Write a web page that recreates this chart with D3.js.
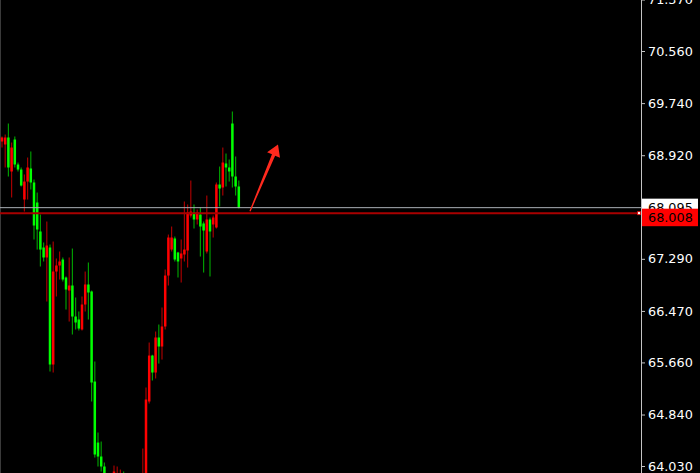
<!DOCTYPE html>
<html><head><meta charset="utf-8">
<script src="https://cdn.jsdelivr.net/npm/d3@7"></script>
<style>html,body{margin:0;padding:0;background:#000;overflow:hidden}svg{display:block}</style>
</head><body><svg id="c" width="700" height="473"></svg>
<script>
// ---- data ----
const opens = [69.136,69.089,69.199,68.664,69.167,68.774,68.695,68.223,68.506,68.711,
68.491,68.176,67.720,67.468,67.311,67.468,65.627,67.090,67.185,67.279,
66.996,66.791,66.870,66.382,66.335,66.178,66.571,66.886,66.776,65.359,
64.399,64.179,64.022,63.849,63.691,63.786,63.817,63.786,63.880,63.817,
63.660,63.754,63.597,63.660,63.738,63.849,65.045,65.768,65.501,66.052,
65.910,66.225,67.027,67.436,67.610,67.389,67.295,67.358,67.421,67.971,
68.019,67.909,67.987,67.846,67.405,67.909,67.830,67.783,68.459,68.412,
68.790,68.727,69.419,68.585,68.428];
const highs = [69.215,69.246,69.419,69.120,69.215,68.805,68.727,68.617,68.884,68.979,
68.538,68.333,67.987,67.547,67.877,67.515,67.562,67.295,67.405,67.311,
67.012,67.311,67.452,66.681,66.461,66.697,67.090,67.232,66.791,65.674,
64.557,64.415,64.085,63.896,63.817,64.037,64.022,63.974,63.943,63.849,
63.786,63.817,63.738,63.849,64.305,65.265,65.973,65.780,66.146,66.256,
66.524,67.122,67.672,67.798,67.641,67.400,67.594,68.192,68.145,68.522,
68.145,68.066,68.097,67.877,68.286,67.940,67.971,68.491,68.742,69.041,
68.947,68.853,69.608,68.900,68.522];
const lows = [69.041,68.727,68.585,68.255,68.727,68.664,68.428,68.034,68.223,68.381,
67.594,67.436,67.169,67.248,66.618,65.517,65.501,66.697,66.964,66.933,
66.492,66.303,66.099,66.178,66.162,66.162,66.461,66.335,65.045,64.163,
64.022,63.943,63.738,63.628,63.581,63.660,63.691,63.660,63.723,63.581,
63.534,63.502,63.502,63.565,63.660,63.786,65.013,65.375,65.407,65.642,
65.705,66.178,66.870,67.405,67.248,66.996,66.917,67.248,67.153,67.940,
67.767,67.830,67.326,67.074,67.374,67.012,67.625,67.767,68.113,68.286,
68.428,68.506,68.412,68.286,68.082];
const closes = [69.199,69.199,68.727,69.041,68.774,68.695,68.443,68.506,68.727,68.491,
67.814,67.751,67.436,67.311,67.499,65.627,67.090,67.185,67.248,66.964,
66.807,66.870,66.382,66.288,66.193,66.571,66.886,66.760,65.344,64.211,
64.179,64.022,63.849,63.738,63.786,63.943,63.911,63.880,63.817,63.707,
63.738,63.628,63.691,63.817,63.880,65.076,65.768,65.501,66.052,65.910,
66.225,67.027,67.625,67.625,67.279,67.248,67.374,67.436,68.019,68.034,
67.909,68.019,67.798,67.735,67.909,67.720,67.940,68.459,68.396,68.805,
68.727,68.664,68.585,68.428,68.095];
const priceTicks = [71.370, 70.560, 69.740, 68.920, 67.290, 66.470, 65.660, 64.840, 64.030];
const bidPrice = 68.095;      // grey line / white label
const markPrice = 68.008;     // red line / red label
const arrowFrom = {i: 77.5, p: 68.04};
const arrowTo   = {i: 86.25, p: 69.09};

// ---- drawing ----
const W = 700, H = 473, axisX = 641;
const n = opens.length;
const svg = d3.select('#c');
svg.append('rect').attr('width', W).attr('height', H).attr('fill', '#000');

const x = d3.scaleLinear().domain([0, n - 1]).range([2, 238.8]);
const y = d3.scaleLinear().domain([64.03, 70.56]).range([466, 51]);

svg.append('defs').append('clipPath').attr('id', 'clip')
  .append('rect').attr('x', 0).attr('y', 0).attr('width', axisX).attr('height', H);

// left frame line
svg.append('line').attr('x1', 0.5).attr('x2', 0.5).attr('y1', 0).attr('y2', H)
  .attr('stroke', '#3a3a3a').attr('stroke-width', 1);

const plot = svg.append('g').attr('clip-path', 'url(#clip)');
const idx = d3.range(n);
const up = i => closes[i] >= opens[i];

plot.selectAll('rect.wick').data(idx).join('rect').attr('class', 'wick')
  .attr('x', i => x(i) - 0.6).attr('width', 1.2)
  .attr('y', i => y(highs[i])).attr('height', i => Math.max(1, y(lows[i]) - y(highs[i])))
  .attr('fill', i => up(i) ? '#a30000' : '#009a00');

plot.selectAll('rect.body').data(idx).join('rect').attr('class', 'body')
  .attr('x', i => x(i) - 1.25).attr('width', 2.5)
  .attr('y', i => y(Math.max(opens[i], closes[i])))
  .attr('height', i => Math.max(1, Math.abs(y(opens[i]) - y(closes[i]))))
  .attr('fill', i => up(i) ? '#ff0000' : '#00ff00');

// horizontal level lines
plot.append('line').attr('x1', 0).attr('x2', axisX).attr('y1', y(bidPrice)).attr('y2', y(bidPrice))
  .attr('stroke', '#aab0b6').attr('stroke-width', 1);
plot.append('line').attr('x1', 0).attr('x2', axisX - 4).attr('y1', y(markPrice)).attr('y2', y(markPrice))
  .attr('stroke', '#a80000').attr('stroke-width', 2);
svg.append('rect').attr('x', axisX - 3.5).attr('y', y(markPrice) - 1.5).attr('width', 3).attr('height', 3)
  .attr('fill', '#fff').attr('stroke', '#e00000').attr('stroke-width', 0.8);

// arrow annotation
(function(){
  const sx = x(arrowFrom.i), sy = y(arrowFrom.p), tx = x(arrowTo.i), ty = y(arrowTo.p);
  const dx = tx - sx, dy = ty - sy, L = Math.hypot(dx, dy);
  const ux = dx / L, uy = dy / L, nx = -uy, ny = ux;
  const headLen = 11.5, headW = 7, shaftT = 0.6, shaftB = 1.7;
  const bx = tx - ux * headLen, by = ty - uy * headLen;
  const pts = [
    [sx + nx * shaftT, sy + ny * shaftT],
    [bx + nx * shaftB, by + ny * shaftB],
    [bx + nx * headW, by + ny * headW],
    [tx, ty],
    [bx - nx * headW, by - ny * headW],
    [bx - nx * shaftB, by - ny * shaftB],
    [sx - nx * shaftT, sy - ny * shaftT]
  ];
  svg.append('path').attr('d', d3.line()(pts) + 'Z').attr('fill', '#ff2a1e');
})();

// price axis
svg.append('line').attr('x1', axisX + 0.5).attr('x2', axisX + 0.5).attr('y1', 0).attr('y2', H)
  .attr('stroke', '#c4c4c4').attr('stroke-width', 1);
const ax = svg.append('g').attr('transform', `translate(${axisX + 1},0)`)
  .call(d3.axisRight(y).tickValues(priceTicks).tickSize(3).tickSizeOuter(0).tickFormat(d3.format('.3f')));
ax.select('.domain').remove();
ax.selectAll('.tick line').attr('stroke', '#c4c4c4');
ax.selectAll('.tick text').attr('x', 6).attr('fill', '#ffffff')
  .style('font-family', '"DejaVu Sans", Verdana, sans-serif').style('font-size', '12.8px');

// price labels
const fmt = d3.format('.3f');
const labelFont = '"DejaVu Sans", Verdana, sans-serif';
svg.append('rect').attr('x', axisX + 1).attr('y', y(bidPrice) - 9).attr('width', 56).attr('height', 18).attr('fill', '#ffffff');
svg.append('text').attr('x', axisX + 7).attr('y', y(bidPrice)).attr('dy', '0.35em').text(fmt(bidPrice))
  .attr('fill', '#000').style('font-family', labelFont).style('font-size', '12.8px');
svg.append('rect').attr('x', axisX + 1).attr('y', y(markPrice) - 4.5).attr('width', 56).attr('height', 17.5).attr('fill', '#ff0000');
svg.append('text').attr('x', axisX + 7).attr('y', y(markPrice) + 4).attr('dy', '0.35em').text(fmt(markPrice))
  .attr('fill', '#000').style('font-family', labelFont).style('font-size', '12.8px');
</script></body></html>
